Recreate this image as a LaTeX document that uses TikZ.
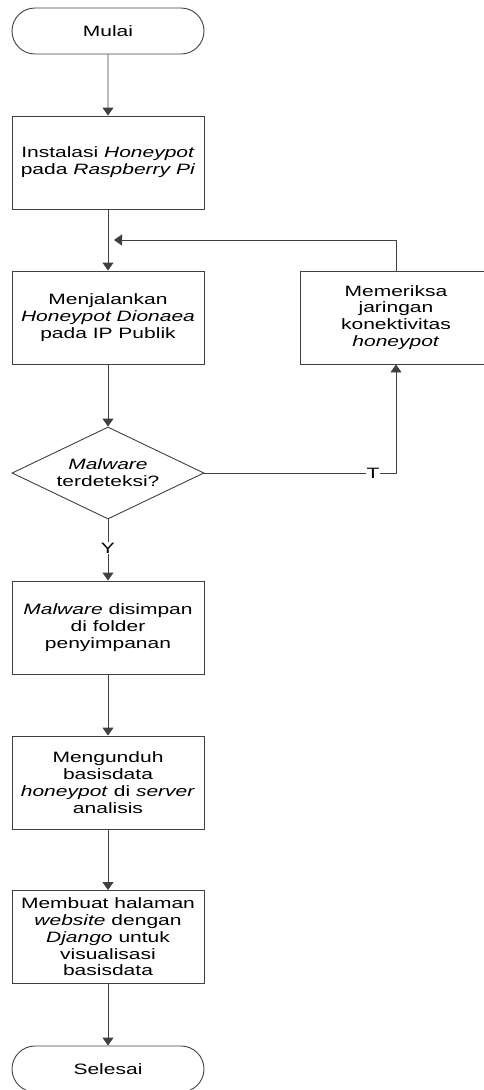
\documentclass[tikz,border=0pt]{standalone}
\usepackage{fontspec}
\setmainfont[FakeStretch=1.4]{Liberation Sans}
\usepackage{tikz}
\usetikzlibrary{arrows.meta, shapes.geometric, shapes.misc}
\tikzstyle{proc}=[draw=black!75, line width=0.9pt, shape=rectangle, minimum width=192pt, minimum height=93pt, inner sep=0pt, align=center, font=\fontsize{15pt}{16.8pt}\selectfont]
\tikzstyle{term}=[draw=black!75, line width=0.9pt, shape=rounded rectangle, minimum width=192pt, minimum height=46pt, inner sep=0pt, font=\fontsize{15pt}{16.8pt}\selectfont]
\tikzstyle{dec}=[draw=black!75, line width=0.9pt, shape=diamond, aspect=2.09, minimum width=192pt, minimum height=92pt, inner sep=0pt, align=center, font=\fontsize{15pt}{16.8pt}\selectfont]
\tikzstyle{flow}=[draw=black!75, line width=0.9pt]
\tikzstyle{lbl}=[fill=white, inner sep=1pt, font=\fontsize{15pt}{16.8pt}\selectfont]
\tikzset{>={Triangle[length=8pt,width=11pt]}}

\begin{document}
\begin{tikzpicture}[x=1pt, y=-1pt]
\useasboundingbox (0,0) rectangle (483,1090);

\node[term] (mulai) at (108, 31) {Mulai};
\node[proc] (instal) at (108, 162.5) {Instalasi \textit{Honeypot}\\pada \textit{Raspberry Pi}};
\node[proc] (jalan) at (108, 317.5) {Menjalankan\\\textit{Honeypot Dionaea}\\pada IP Publik};
\node[proc] (periksa) at (396, 317.5) {Memeriksa\\jaringan\\konektivitas\\\textit{honeypot}};
\node[dec] (deteksi) at (108, 473) {\textit{Malware}\\terdeteksi?};
\node[proc] (simpan) at (108, 627.5) {\textit{Malware} disimpan\\di folder\\penyimpanan};
\node[proc] (unduh) at (108, 782.5) {Mengunduh\\basisdata\\\textit{honeypot} di \textit{server}\\analisis};
\node[proc] (web) at (108, 937) {Membuat halaman\\\textit{website} dengan\\\textit{Django} untuk\\visualisasi\\basisdata};
\node[term] (selesai) at (108, 1069) {Selesai};
\coordinate (balik) at (114, 240);

\draw[flow, ->] (mulai) -- (instal);
\draw[flow, ->] (instal) -- (jalan);
\draw[flow, ->] (periksa.north) |- (balik);
\draw[flow, ->] (jalan) -- (deteksi);
\draw[flow, ->] (deteksi) -- node[lbl, pos=0.47] {Y} (simpan);
\draw[flow, ->] (deteksi.east) -| node[lbl, pos=0.44] {T} (periksa.south);
\draw[flow, ->] (simpan) -- (unduh);
\draw[flow, ->] (unduh) -- (web);
\draw[flow, ->] (web) -- (selesai);
\end{tikzpicture}
\end{document}
